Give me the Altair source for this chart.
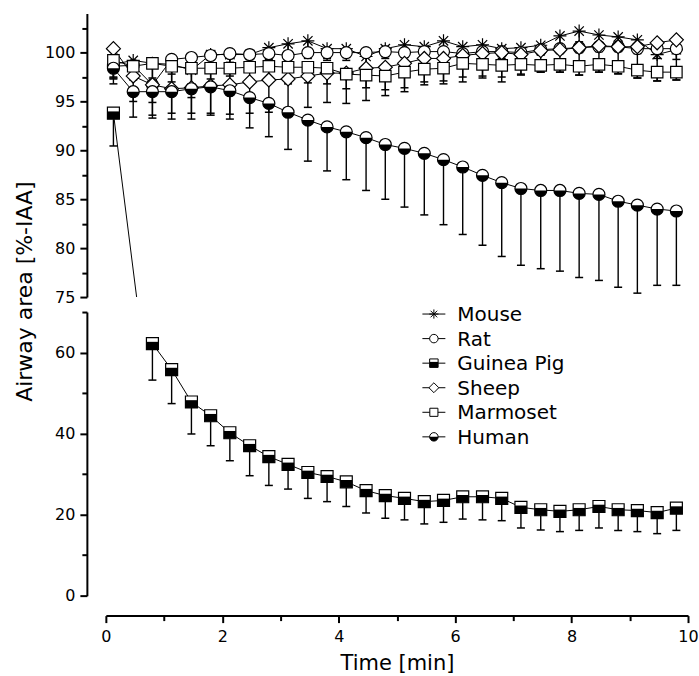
import math
import altair as alt
import pandas as pd

# ---------------- data ----------------
times = [0.13, 0.47, 0.80, 1.13, 1.47, 1.80, 2.13, 2.47, 2.80, 3.13,
         3.47, 3.80, 4.13, 4.47, 4.80, 5.13, 5.47, 5.80, 6.13, 6.47,
         6.80, 7.13, 7.47, 7.80, 8.13, 8.47, 8.80, 9.13, 9.47, 9.80]

species = ["Mouse", "Rat", "Guinea Pig", "Sheep", "Marmoset", "Human"]

mouse = [98.8, 99.2, 98.9, 98.8, 98.2, 99.8, 99.8, 99.8, 100.5, 100.9,
         101.2, 100.4, 100.4, 99.6, 100.4, 100.8, 100.6, 101.2, 100.6, 100.8,
         100.4, 100.5, 100.75, 101.7, 102.2, 101.8, 101.6, 101.3, 99.8, 100.3]
mouse_err = [1.5, 2.0, 2.5, 2.5, 2.8, 2.5, 2.2, 1.5, 1.3, 1.4,
             1.5, 1.2, 1.2, 1.0, 1.0, 1.0, 1.0, 1.1, 1.0, 1.0,
             1.0, 1.0, 1.0, 1.0, 1.1, 1.1, 1.1, 1.2, 0.4, 1.0]

rat = [98.6, 98.7, 96.7, 99.3, 99.5, 99.7, 99.9, 99.8, 99.9, 99.7,
       100.0, 100.0, 100.0, 100.0, 100.1, 100.0, 100.1, 100.1, 99.9, 100.1,
       100.1, 100.0, 100.3, 100.4, 100.5, 100.6, 100.6, 100.4, 100.4, 100.4]
rat_err = [1.2, 1.4, 1.8, 1.5, 1.3, 1.0, 0.9, 0.7, 0.6, 0.3,
           0.6, 0.6, 0.5, 0.5, 0.5, 0.5, 0.5, 0.5, 0.5, 0.5,
           0.5, 0.5, 0.5, 0.5, 0.5, 0.5, 0.5, 0.5, 0.5, 0.5]

guinea = [93.8, None, 62.2, 55.8, 47.8, 44.4, 40.2, 37.0, 34.3, 32.4,
          30.4, 29.4, 28.1, 25.9, 24.7, 24.0, 23.2, 23.5, 24.4, 24.4,
          24.0, 21.8, 21.2, 20.8, 21.2, 22.0, 21.2, 21.0, 20.5, 21.6]
guinea_err = [3.35, None, 9.0, 8.4, 7.9, 7.4, 6.9, 7.4, 7.1, 6.1,
              6.4, 6.2, 6.1, 5.5, 5.6, 5.3, 5.5, 5.4, 5.5, 5.7,
              5.5, 5.1, 5.0, 5.0, 5.1, 5.3, 5.1, 5.2, 5.2, 5.5]

sheep = [100.4, 97.6, 96.7, 96.3, 96.4, 96.6, 96.7, 97.0, 97.2, 97.3,
         97.6, 97.9, 97.9, 98.4, 98.5, 98.9, 99.4, 99.4, 99.7, 99.9,
         100.0, 99.8, 100.2, 100.3, 100.5, 100.7, 100.6, 100.6, 101.0, 101.3]
sheep_err = [2.4, 2.6, 3.1, 2.5, 2.6, 2.8, 3.0, 3.2, 3.3, 3.0,
             3.2, 3.0, 3.1, 3.3, 2.9, 2.9, 2.7, 2.6, 2.7, 2.5,
             3.0, 2.1, 2.2, 2.3, 2.8, 2.7, 2.75, 3.2, 3.9, 4.1]

marmoset = [99.2, 98.6, 98.9, 98.6, 98.4, 98.4, 98.4, 98.5, 98.6, 98.5,
            98.5, 98.4, 97.8, 97.7, 97.6, 98.0, 98.3, 98.4, 98.9, 98.8,
            98.7, 98.8, 98.7, 98.8, 98.6, 98.8, 98.6, 98.2, 98.0, 98.0]
marmoset_err = [1.7, 1.3, 1.5, 1.6, 1.6, 1.7, 1.6, 1.5, 1.6, 1.7,
                1.6, 1.6, 1.5, 1.3, 1.4, 1.6, 1.3, 1.3, 1.4, 1.2,
                1.2, 1.0, 0.7, 0.8, 0.9, 0.8, 0.8, 0.8, 0.9, 0.8]

human = [98.4, 96.0, 96.0, 96.0, 96.3, 96.5, 96.1, 95.4, 94.8, 93.9,
         93.1, 92.4, 91.9, 91.3, 90.6, 90.2, 89.7, 89.05, 88.3, 87.45,
         86.7, 86.1, 85.9, 85.9, 85.6, 85.5, 84.8, 84.4, 84.0, 83.8]
human_err = [1.6, 2.6, 2.7, 2.8, 3.1, 2.9, 2.9, 3.1, 3.4, 3.8,
             4.2, 4.5, 4.9, 5.4, 5.6, 6.0, 6.3, 6.65, 6.9, 7.15,
             7.55, 7.85, 8.0, 8.25, 8.6, 8.8, 8.8, 9.0, 7.8, 7.6]

top_ticks = [75, 77.5, 80, 82.5, 85, 87.5, 90, 92.5, 95, 97.5, 100, 102.5]
bottom_ticks = [0, 10, 20, 30, 40, 50, 60, 70]
x_ticks = [0, 1, 2, 3, 4, 5, 6, 7, 8, 9, 10]

# ---------------- table ----------------
series = {
    "Mouse": (mouse, mouse_err),
    "Rat": (rat, rat_err),
    "Guinea Pig": (guinea, guinea_err),
    "Sheep": (sheep, sheep_err),
    "Marmoset": (marmoset, marmoset_err),
    "Human": (human, human_err),
}
rows = []
for sp in species:
    vals, errs = series[sp]
    for t, v, e in zip(times, vals, errs):
        if v is None:
            continue
        rows.append({"species": sp, "t": t, "value": v,
                     "err": e, "lo": (v - e) if e is not None else None})
df = pd.DataFrame(rows)
leg_df = pd.DataFrame({"species": species})

# ---------------- marker styles ----------------
ASTER = "M-1,0L1,0M0,-1L0,1M-0.72,-0.72L0.72,0.72M-0.72,0.72L0.72,-0.72"
SQ_HALF = "M-1,-0.3L1,-0.3L1,1L-1,1Z"
pts = ["M1,0"]
for i in range(1, 16):
    a = math.pi * i / 16
    pts.append("L%.3f,%.3f" % (math.cos(a), math.sin(a)))
pts.append("L-1,0Z")
CIRC_HALF = "".join(pts)

marker = {
    "Mouse": dict(shape=ASTER, size=169, fill="transparent", half=None),
    "Rat": dict(shape="circle", size=144, fill="white", half=None),
    "Guinea Pig": dict(shape="square", size=144, fill="white", half=SQ_HALF),
    "Sheep": dict(shape="diamond", size=196, fill="white", half=None),
    "Marmoset": dict(shape="square", size=132, fill="white", half=None),
    "Human": dict(shape="circle", size=144, fill="white", half=CIRC_HALF),
}

FONT = "DejaVu Sans"
W = 583
TOP_H = 284
BOT_H = 284


def yaxis(values, major, title=None, title_y=None):
    kw = dict(
        values=values,
        labelExpr="datum.value %% %g === 0 ? datum.label : ''" % major,
        tickSize={"condition": {"test": "datum.value %% %g === 0" % major, "value": 7}, "value": 5},
        tickWidth=2, domainWidth=2, domainColor="black", tickColor="black",
        labelColor="black", labelFont=FONT, labelFontSize=16, labelPadding=5,
        labelOverlap=False, grid=False, offset=19,
    )
    if title is not None:
        kw.update(title=title, titleFont=FONT, titleFontSize=22, titleFontWeight="normal",
                  titleColor="black", titleY=title_y, titlePadding=8)
    else:
        kw.update(title=None)
    return alt.Axis(**kw)


xaxis_bottom = alt.Axis(
    values=x_ticks,
    labelExpr="datum.value % 2 === 0 ? datum.label : ''",
    tickSize={"condition": {"test": "datum.value % 2 === 0", "value": 7}, "value": 5},
    tickWidth=2, domainWidth=2, domainColor="black", tickColor="black",
    labelColor="black", labelFont=FONT, labelFontSize=16, labelPadding=6,
    labelFlush=False, labelOverlap=False, grid=False, offset=20,
    title="Time [min]", titleFont=FONT, titleFontSize=21, titleFontWeight="normal",
    titleColor="black", titlePadding=8,
)


def make_panel(ydomain, y_axis, x_axis, height, pt_filter, line_filter):
    xscale = alt.Scale(domain=[0, 10], nice=False)
    yscale = alt.Scale(domain=ydomain, nice=False, zero=False)
    xenc = alt.X("t:Q", scale=xscale, axis=x_axis)
    yenc = alt.Y("value:Q", scale=yscale, axis=y_axis)
    base = alt.Chart(df)
    layers = []
    lb = base if line_filter is None else base.transform_filter(line_filter)
    layers.append(lb.mark_line(color="black", strokeWidth=1, clip=True).encode(
        x=xenc, y=yenc, detail="species:N", order="t:Q"))
    ef = "(%s) && isValid(datum.err)" % pt_filter
    layers.append(base.transform_filter(ef).mark_rule(color="black", strokeWidth=1.4).encode(
        x=xenc, y=yenc, y2="lo:Q"))
    layers.append(base.transform_filter(ef).mark_tick(
        orient="horizontal", size=8, thickness=1.5, color="black", opacity=1).encode(
        x=xenc, y=alt.Y("lo:Q", scale=yscale, axis=y_axis)))
    for sp in species:
        m = marker[sp]
        f = "(%s) && datum.species === '%s'" % (pt_filter, sp)
        layers.append(base.transform_filter(f).mark_point(
            shape=m["shape"], size=m["size"], filled=True, fill=m["fill"],
            stroke="black", strokeWidth=1.2, opacity=1).encode(x=xenc, y=yenc))
        if m["half"]:
            layers.append(base.transform_filter(f).mark_point(
                shape=m["half"], size=m["size"], filled=True, fill="black",
                strokeWidth=0, opacity=1).encode(x=xenc, y=yenc))
    return alt.layer(*layers).properties(width=W, height=height)


top = make_panel([75, 104],
                 yaxis(top_ticks, 5, "Airway area [%-IAA]", 278),
                 None, TOP_H, "datum.value >= 75", None)

bottom_main = make_panel([0, 70], yaxis(bottom_ticks, 20), xaxis_bottom, BOT_H,
                         "datum.value <= 70", "datum.value <= 70")

# ---------------- legend (drawn inside the lower panel) ----------------
leg_y = alt.Y("species:N", sort=species,
              scale=alt.Scale(type="point", range=[2, 125], padding=0), axis=None)
leg_base = alt.Chart(leg_df)
leg_layers = [leg_base.mark_rule(color="black", strokeWidth=1).encode(
    x=alt.value(317), x2=alt.value(340), y=leg_y)]
for sp in species:
    m = marker[sp]
    f = "datum.species === '%s'" % sp
    leg_layers.append(leg_base.transform_filter(f).mark_point(
        shape=m["shape"], size=m["size"] * 0.5, filled=True, fill=m["fill"],
        stroke="black", strokeWidth=1, opacity=1).encode(x=alt.value(328.5), y=leg_y))
    if m["half"]:
        leg_layers.append(leg_base.transform_filter(f).mark_point(
            shape=m["half"], size=m["size"] * 0.5, filled=True, fill="black",
            strokeWidth=0, opacity=1).encode(x=alt.value(328.5), y=leg_y))
leg_layers.append(leg_base.mark_text(align="left", baseline="middle", font=FONT,
                                     fontSize=20, color="black", dy=1).encode(
    x=alt.value(352), y=leg_y, text="species:N"))
legend = alt.layer(*leg_layers)

bottom = alt.layer(bottom_main, legend).resolve_scale(y="independent")

chart = alt.vconcat(top, bottom, spacing=15, bounds="flush").properties(
    padding={"left": 13, "top": 13, "right": 0, "bottom": 0},
    background="white",
).configure_view(stroke=None)

chart.save("out.html", embed_options={"renderer": "svg", "actions": False})
